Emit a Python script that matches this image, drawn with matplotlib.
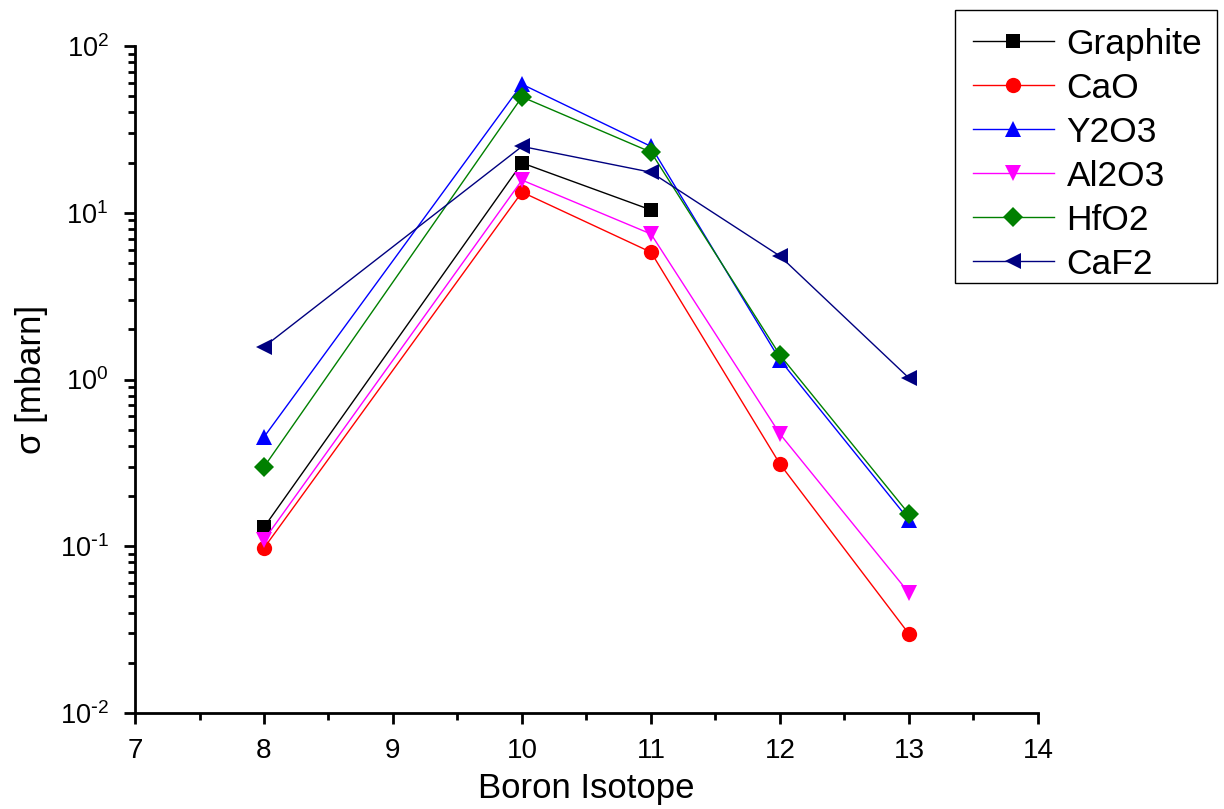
import matplotlib
matplotlib.use("Agg")
import matplotlib.pyplot as plt
from matplotlib.ticker import LogLocator, MultipleLocator, FixedLocator
from matplotlib.patches import Rectangle
import numpy as np

plt.rcParams['font.family'] = ['Liberation Sans', 'DejaVu Sans']
plt.rcParams['mathtext.default'] = 'regular'

isotopes = [8, 10, 11, 12, 13]
graphite_x = [8, 10, 11]
graphite = [0.130, 19.9, 10.4]
cao = [0.0976, 13.3, 5.8, 0.311, 0.0298]
y2o3 = [0.452, 59.0, 25.0, 1.31, 0.144]
al2o3 = [0.109, 15.7, 7.46, 0.471, 0.0525]
hfo2 = [0.299, 49.5, 23.1, 1.40, 0.156]
caf2 = [1.57, 25.0, 17.5, 5.5, 1.02]

x_ticks = [7, 8, 9, 10, 11, 12, 13, 14]
y_ticks = [1e-2, 1e-1, 1e0, 1e1, 1e2]
y_ticklabels = [r'$10^{\text{-}2}$', r'$10^{\text{-}1}$', r'$10^{0}$', r'$10^{1}$', r'$10^{2}$']

W, H = 1224, 809
fig = plt.figure(figsize=(W / 100, H / 100), dpi=100)
ax = fig.add_axes([0.1103, 0.1187, 0.7377, 0.8244])

series = [
    (graphite_x, graphite, 'Graphite', 'black', 's', 10),
    (isotopes, cao, 'CaO', 'red', 'o', 11),
    (isotopes, y2o3, 'Y2O3', 'blue', '^', 12),
    (isotopes, al2o3, 'Al2O3', 'magenta', 'v', 12),
    (isotopes, hfo2, 'HfO2', 'green', 'D', 10),
    (isotopes, caf2, 'CaF2', 'navy', '<', 12),
]
for xs, ys, lab, col, mk, ms in series:
    ax.plot(xs, ys, color=col, marker=mk, markersize=ms, linewidth=1.0,
            markeredgewidth=0, label=lab)

ax.set_yscale('log')
ax.set_xlim(7, 14)
ax.set_ylim(1e-2, 1e2)
ax.xaxis.set_major_locator(FixedLocator(x_ticks))
ax.xaxis.set_minor_locator(MultipleLocator(0.5))
ax.yaxis.set_major_locator(FixedLocator(y_ticks))
ax.set_yticklabels(y_ticklabels)
ax.yaxis.set_minor_locator(LogLocator(base=10, subs=np.arange(2, 10)))
ax.yaxis.set_minor_formatter(plt.NullFormatter())

for s in ['top', 'right']:
    ax.spines[s].set_visible(False)
for s in ['left', 'bottom']:
    ax.spines[s].set_linewidth(2)

ax.tick_params(which='major', direction='out', length=8, width=2)
ax.tick_params(axis='x', which='major', pad=10, labelsize=20)
ax.tick_params(axis='y', which='major', pad=11, labelsize=19.5)
ax.tick_params(which='minor', direction='out', length=5, width=2)

ax.set_xlabel('Boron Isotope', fontsize=25, labelpad=6)
ax.set_ylabel('σ [mbarn]', fontsize=25, labelpad=8)

leg = fig.legend(loc='upper left', bbox_to_anchor=(955 / W, 1 - 10 / H),
                 fontsize=25.5, frameon=False,
                 handlelength=2.3, borderpad=0.5, labelspacing=0.31,
                 handletextpad=0.35, borderaxespad=0)
# legend frame drawn as a box in figure pixels
fig.patches.append(Rectangle((955 / W, 1 - 283 / H), (1217 - 955) / W, (283 - 10) / H,
                             transform=fig.transFigure, fill=False,
                             edgecolor='black', linewidth=1.0))

fig.savefig('out.png', dpi=100)
